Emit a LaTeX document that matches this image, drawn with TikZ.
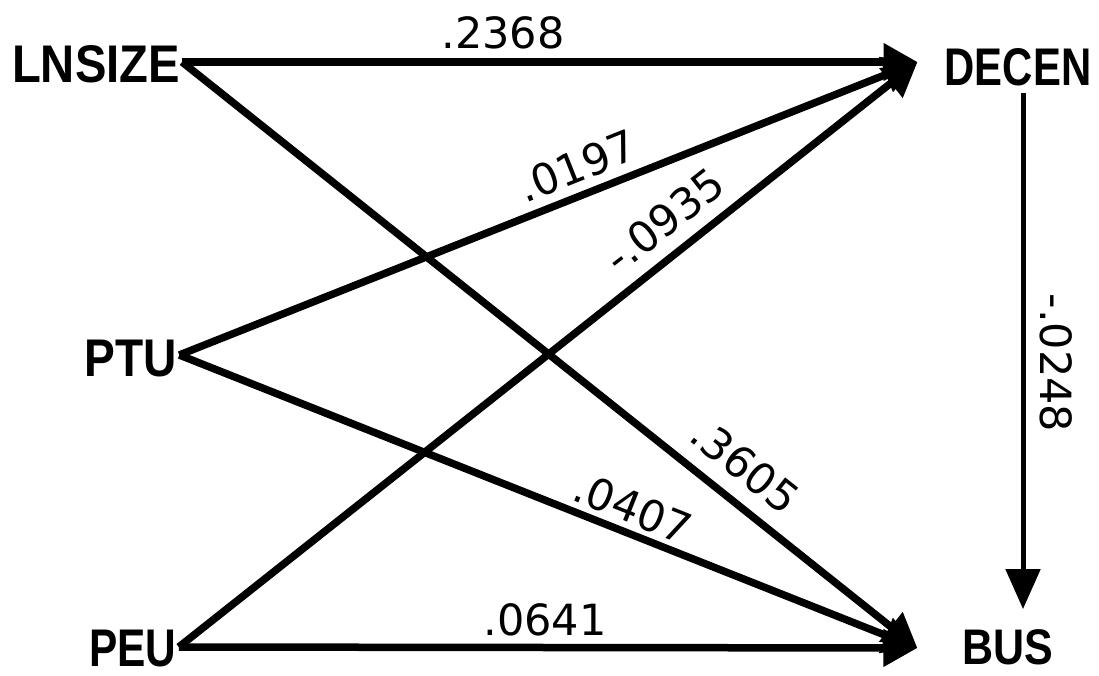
\documentclass[tikz,border=0pt]{standalone}
\usepackage{fontspec}
\setmainfont{Liberation Sans}
\newfontfamily\handfont{DejaVu Sans}
\usetikzlibrary{arrows.meta}
\newcommand{\nm}[2]{\scalebox{#1}[1]{#2}}
\tikzset{
  varname/.style={font=\fontsize{53}{53}\selectfont\bfseries, inner sep=2pt},
  coef/.style={font=\handfont\fontsize{43}{43}\selectfont, inner sep=0pt},
  path/.style={line width=7.5pt, -{Triangle[length=34pt,width=36pt]}},
  thinpath/.style={line width=5pt, -{Triangle[length=40pt,width=34pt]}}
}
\begin{document}
\begin{tikzpicture}[x=1pt,y=-1pt]
\useasboundingbox (0,0) rectangle (1099,676);
% variables
\node[varname] (lnsize) at (96,64) {\nm{0.89}{LNSIZE}};
\node[varname] (ptu) at (131,359) {\nm{0.87}{PTU}};
\node[varname] (peu) at (133,649) {\nm{0.80}{PEU}};
\node[varname] (decen) at (1018,67) {\nm{0.79}{DECEN}};
\node[varname, font=\fontsize{50}{50}\selectfont\bfseries] (bus) at (1008,647) {\nm{0.86}{BUS}};
% connectors into DECEN
\draw[path] ([yshift=2pt]lnsize.east) -- ([xshift=-25pt,yshift=5pt]decen.west);
\draw[path] ([yshift=4pt]ptu.east) -- ([xshift=-25pt,yshift=5pt]decen.west);
\draw[path] ([yshift=2pt]peu.east) -- ([xshift=-25pt,yshift=5pt]decen.west);
% connectors into BUS
\draw[path] ([yshift=2pt]lnsize.east) -- ([xshift=-43pt,yshift=-1pt]bus.west);
\draw[path] ([yshift=4pt]ptu.east) -- ([xshift=-43pt,yshift=-1pt]bus.west);
\draw[path] ([yshift=2pt]peu.east) -- ([xshift=-43pt,yshift=-1pt]bus.west);
% DECEN -> BUS
\draw[thinpath] ([xshift=5pt,yshift=-5pt]decen.south) -- ([xshift=15pt,yshift=18pt]bus.north);
% coefficients
\node[coef] (c1) at (503,33) {.2368};
\node[coef, rotate=21.7] (c2) at (577,166) {.0197};
\node[coef, rotate=38] (c3) at (664,220) {-.0935};
\node[coef, rotate=-38.5] (c4) at (745,466) {.3605};
\node[coef, rotate=-21.7] (c5) at (633,508) {.0407};
\node[coef] (c6) at (545,620) {.0641};
\node[coef, rotate=-90] (c7) at (1056,363) {-.0248};
\end{tikzpicture}
\end{document}
